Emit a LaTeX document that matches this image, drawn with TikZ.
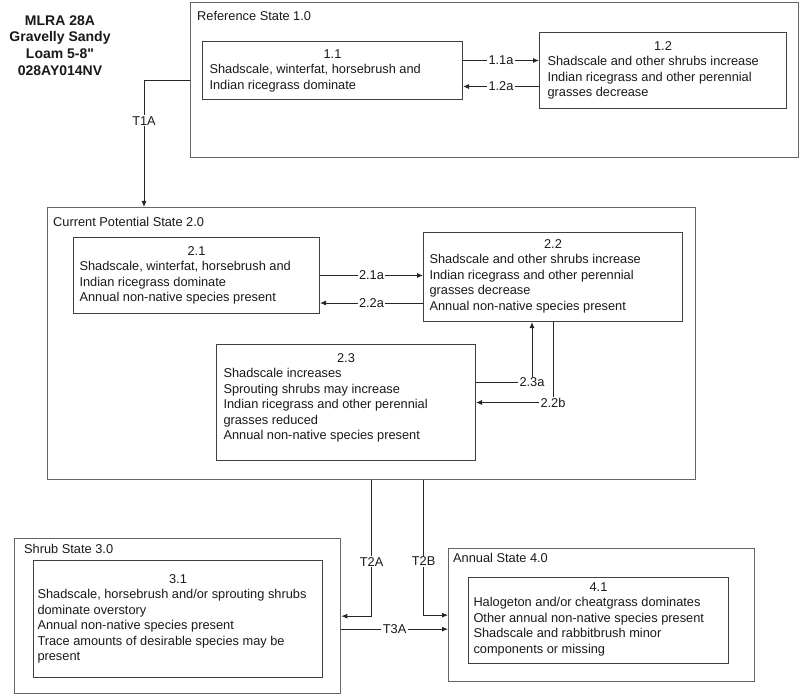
\documentclass[tikz,border=0pt]{standalone}
\usepackage{fontspec}
\setmainfont{Liberation Sans}
\newfontfamily\titlefont{Liberation Sans}
\usetikzlibrary{arrows.meta}
% box text: width, height, first baseline, number, lines
\newcommand{\cell}[5]{\parbox[t][#2][t]{#1}{\raggedright\vspace*{\dimexpr#3-\ht\strutbox\relax}\strut\hfill#4\hfill\strut\\#5}}
\begin{document}
\begin{tikzpicture}[x=1pt,y=-1pt,
        font=\fontsize{12.8}{15.5}\selectfont,text=black!90,
        state/.style={draw=black!60,line width=1.3pt,anchor=north west,inner sep=0pt},
        inbox/.style={draw=black!75,line width=1pt,anchor=north west,inner ysep=0pt},
        slab/.style={anchor=west,inner sep=0pt},
        conn/.style={draw=black!85,line width=0.9pt,-{Latex[length=6pt,width=5pt]}},
        lbl/.style={fill=white,inner xsep=1.5pt,inner ysep=1pt}]
        \useasboundingbox (0,0) rectangle (800,695);
        \node[align=center,font=\titlefont\bfseries\fontsize{14}{16.7}\selectfont] (ttl) at (60,45.5) {MLRA 28A\\Gravelly Sandy\\Loam 5-8"\\028AY014NV};
        % states
        \node[state,minimum width=608,minimum height=155] (s1) at (190,2) {};
        \node[state,minimum width=648,minimum height=272] (s2) at (47,207) {};
        \node[state,minimum width=326,minimum height=155] (s3) at (14,538) {};
        \node[state,minimum width=306,minimum height=133] (s4) at (448,548) {};
        \node[slab] (l1) at ([shift={(7,14)}]s1.north west) {Reference State 1.0};
        \node[slab] (l2) at ([shift={(6,15)}]s2.north west) {Current Potential State 2.0};
        \node[slab] (l3) at ([shift={(10,11)}]s3.north west) {Shrub State 3.0};
        \node[slab] (l4) at ([shift={(5,10)}]s4.north west) {Annual State 4.0};
        % communities
        \node[inbox,inner xsep=7pt] (b11) at (202,41) {\cell{246pt}{58pt}{16.9pt}{1.1}{Shadscale, winterfat, horsebrush and\\Indian ricegrass dominate}};
        \node[inbox,inner xsep=8pt] (b12) at (539,32) {\cell{231pt}{76pt}{17.6pt}{1.2}{Shadscale and other shrubs increase\\Indian ricegrass and other perennial\\grasses decrease}};
        \node[inbox,inner xsep=6pt] (b21) at (73,237) {\cell{234pt}{76pt}{17.6pt}{2.1}{Shadscale, winterfat, horsebrush and\\Indian ricegrass dominate\\Annual non-native species present}};
        \node[inbox,inner xsep=6pt] (b22) at (423,232) {\cell{247pt}{89pt}{15.9pt}{2.2}{Shadscale and other shrubs increase\\Indian ricegrass and other perennial\\grasses decrease\\Annual non-native species present}};
        \node[inbox,inner xsep=7pt] (b23) at (216,344) {\cell{245pt}{116pt}{17.6pt}{2.3}{Shadscale increases\\Sprouting shrubs may increase\\Indian ricegrass and other perennial\\grasses reduced\\Annual non-native species present}};
        \node[inbox,inner xsep=4pt] (b31) at (33,560) {\cell{281pt}{117pt}{22.6pt}{3.1}{Shadscale, horsebrush and/or sprouting shrubs\\dominate overstory\\Annual non-native species present\\Trace amounts of desirable species may be\\present}};
        \node[inbox,inner xsep=5pt] (b41) at (468,577) {\cell{250pt}{86pt}{13.6pt}{4.1}{Halogeton and/or cheatgrass dominates\\Other annual non-native species present\\Shadscale and rabbitbrush minor\\components or missing}};
        % pathways
        \coordinate (c11a) at ([yshift=10pt]b11.east);
        \coordinate (c12a) at ([yshift=-16pt]b12.west);
        \draw[conn] (c11a) -- node[lbl]{1.1a} (c11a -| b12.west);
        \draw[conn] (c12a) -- node[lbl]{1.2a} (c12a -| b11.east);
        \coordinate (c22a) at ([yshift=-26pt]b22.west);
        \draw[conn] (b21.east) -- node[lbl]{2.1a} (b21.east -| b22.west);
        \draw[conn] (c22a) -- node[lbl]{2.2a} (c22a -| b21.east);
        \coordinate (c23a) at ([yshift=20pt]b23.east);
        \coordinate (c23b) at ([xshift=-21pt]b22.south);
        \draw[conn] (c23a) -| node[lbl]{2.3a} (c23b);
        \draw[conn] (b22.south) |- node[lbl]{2.2b} (b23.east);
        % transitions
        \coordinate (t1a) at ([xshift=97pt]s2.north west);
        \draw[conn] (s1.west) -| node[lbl,pos=0.66]{T1A} (t1a);
        \draw[conn] (s2.south) |- node[lbl,pos=0.3]{T2A} (s3.east);
        \coordinate (t2b) at ([xshift=52pt]s2.south);
        \draw[conn] (t2b) |- node[lbl,pos=0.3]{T2B} (s4.west);
        \coordinate (t3a) at ([yshift=-13pt]s3.east);
        \draw[conn] (t3a) -- node[lbl]{T3A} (t3a -| s4.west);
\end{tikzpicture}
\end{document}
